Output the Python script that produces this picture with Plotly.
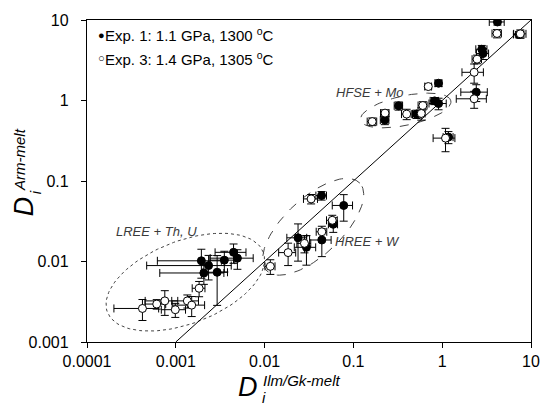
import numpy as np
import plotly.graph_objects as go

# ---------------- data ----------------
# Exp. 1 (filled circles)
exp1_x = [0.00194, 0.00234, 0.00207, 0.00292, 0.00352, 0.00447, 0.00494,
          0.0438, 0.0778, 0.0593, 0.0441, 0.0238, 0.0296,
          0.226, 0.323, 0.513, 0.822, 0.910, 0.910, 1.175, 2.42, 2.88, 2.79, 4.19, 7.33]
exp1_y = [0.0102, 0.0089, 0.0072, 0.00735, 0.0104, 0.0130, 0.0110,
          0.0659, 0.0497, 0.0290, 0.0185, 0.0197, 0.0150,
          0.571, 0.859, 0.678, 0.989, 0.917, 1.64, 0.351, 1.27, 3.83, 4.33, 9.45, 6.61]
exp1_ex = [0.00132, 0.00187, 0.00141, 0.0009, 0.0011, 0.0017, 0.0025,
           0.006, 0.02, 0.007, 0.012, 0.006, 0.008,
           0.025, 0.035, 0.05, 0.09, 0.2, 0.08, 0.15, 0.8, 0.45, 0.4, 0.8, 1.0]
exp1_ey = [0.0040, 0.0030, 0.0020, 0.0045, 0.0030, 0.0035, 0.0030,
           0.008, 0.018, 0.006, 0.007, 0.0096, 0.006,
           0.07, 0.10, 0.08, 0.10, 0.15, 0.15, 0.06, 0.3, 0.6, 0.5, 0.8, 0.6]

# Exp. 3 (open circles)
exp3_x = [0.000421, 0.000610, 0.000752, 0.000987, 0.00135, 0.00151, 0.00183,
          0.0334, 0.0578, 0.0441, 0.0281, 0.0184, 0.0116,
          0.163, 0.227, 0.398, 0.581, 0.605, 0.697, 1.09, 2.29, 2.29, 2.47, 4.14, 7.58]
exp3_y = [0.00261, 0.00296, 0.00324, 0.00252, 0.00324, 0.00287, 0.00465,
          0.0599, 0.0325, 0.0234, 0.0168, 0.0129, 0.00871,
          0.547, 0.697, 0.678, 0.690, 0.866, 1.49, 0.341, 1.05, 2.24, 3.26, 6.80, 6.73]
exp3_ex = [0.00022, 0.00016, 0.00030, 0.00030, 0.00045, 0.00060, 0.00030,
           0.006, 0.008, 0.006, 0.005, 0.004, 0.0015,
           0.02, 0.025, 0.05, 0.06, 0.07, 0.06, 0.3, 0.85, 0.62, 0.3, 0.5, 1.2]
exp3_ey = [0.00076, 0.00040, 0.00110, 0.00050, 0.00060, 0.0008, 0.0010,
           0.008, 0.005, 0.004, 0.004, 0.004, 0.0018,
           0.06, 0.07, 0.1, 0.12, 0.1, 0.1, 0.11, 0.25, 0.6, 0.4, 0.8, 0.8]

x_ticks = [0.0001, 0.001, 0.01, 0.1, 1, 10]
x_ticktext = ["0.0001", "0.001", "0.01", "0.1", "1", "10"]
y_ticks = [0.001, 0.01, 0.1, 1, 10]
y_ticktext = ["0.001", "0.01", "0.1", "1", "10"]

legend_labels = ["Exp. 1: 1.1 GPa, 1300 <sup>o</sup>C", "Exp. 3: 1.4 GPa, 1305 <sup>o</sup>C"]
legend_symbols = ["\u25CF", "\u25CB"]
group_labels = ["LREE + Th, U", "HREE + W", "HFSE + Mo"]

# ---------------- layout constants ----------------
W, H = 552, 405
ML, MR, MT, MB = 87, 13, 15, 63
PW, PH = W - ML - MR, H - MT - MB
XR, YR = [-4, 1], [-3, 1]
PX_DEC_X = PW / (XR[1] - XR[0])
PX_DEC_Y = PH / (YR[1] - YR[0])
FONT = "Arial, Liberation Sans, sans-serif"


def ellipse(cx, cy, a_px, b_px, ang_deg, n=120):
    t = np.linspace(0, 2 * np.pi, n)
    ang = np.deg2rad(ang_deg)
    dx = a_px * np.cos(t) * np.cos(ang) - b_px * np.sin(t) * np.sin(ang)
    dy = a_px * np.cos(t) * np.sin(ang) + b_px * np.sin(t) * np.cos(ang)
    lx = np.log10(cx) + dx / PX_DEC_X
    ly = np.log10(cy) + dy / PX_DEC_Y
    return 10 ** lx, 10 ** ly


fig = go.Figure()

# ellipses
for (cx, cy, a, b, ang, dash) in [
    (0.00128, 0.00554, 85, 42, 21, "dot"),
    (0.0352, 0.0270, 65, 29, 43, "dash"),
    (0.388, 0.752, 47, 15, 12, "dash"),
]:
    ex_, ey_ = ellipse(cx, cy, a, b, ang)
    fig.add_trace(go.Scatter(x=ex_, y=ey_, mode="lines",
                             line=dict(color="#444444", width=1, dash=dash),
                             hoverinfo="skip", showlegend=False))

# 1:1 line
fig.add_trace(go.Scatter(x=[0.001, 10], y=[0.001, 10], mode="lines",
                         line=dict(color="black", width=1), showlegend=False))

err_style = dict(type="data", symmetric=True, color="black", thickness=1, width=4)

fig.add_trace(go.Scatter(
    x=exp1_x, y=exp1_y, mode="markers",
    error_x=dict(array=exp1_ex, **err_style),
    error_y=dict(array=exp1_ey, **err_style),
    marker=dict(symbol="circle", size=8, color="black", line=dict(color="black", width=1)),
    showlegend=False))

fig.add_trace(go.Scatter(
    x=exp3_x, y=exp3_y, mode="markers",
    error_x=dict(array=exp3_ex, **err_style),
    error_y=dict(array=exp3_ey, **err_style),
    marker=dict(symbol="circle", size=8, color="white", line=dict(color="black", width=1)),
    showlegend=False))


def px2paper(px, py):
    return (px - ML) / PW, (H - MB - py) / PH


annotations = []
# legend (as text)
for i, (sym, lab) in enumerate(zip(legend_symbols, legend_labels)):
    x, y = px2paper(96, 30 + 24 * i)
    annotations.append(dict(x=x, y=y, xref="paper", yref="paper", xanchor="left", yanchor="middle",
                            text=sym, showarrow=False,
                            font=dict(family=FONT, size=11, color="black")))
    x, y = px2paper(103, 30 + 24 * i)
    annotations.append(dict(x=x, y=y, xref="paper", yref="paper", xanchor="left", yanchor="middle",
                            text=lab, showarrow=False,
                            font=dict(family=FONT, size=15, color="black")))

# group labels
for lab, (px, py) in zip(group_labels, [(158, 230), (373, 240), (375, 89)]):
    x, y = px2paper(px, py)
    annotations.append(dict(x=x, y=y, xref="paper", yref="paper", xanchor="center", yanchor="middle",
                            text="<i>" + lab + "</i>", showarrow=False,
                            font=dict(family=FONT, size=13, color="#3a3a3a")))

# x axis title: D_i^{Ilm/Gk-melt}
x, y = px2paper(251, 388)
annotations.append(dict(x=x, y=y, xref="paper", yref="paper", xanchor="center", yanchor="middle",
                        text="<i>D</i>", showarrow=False, font=dict(family=FONT, size=27, color="black")))
x, y = px2paper(264, 381)
annotations.append(dict(x=x, y=y, xref="paper", yref="paper", xanchor="left", yanchor="middle",
                        text="<i>Ilm/Gk-melt</i>", showarrow=False, font=dict(family=FONT, size=15, color="black")))
x, y = px2paper(263, 398)
annotations.append(dict(x=x, y=y, xref="paper", yref="paper", xanchor="left", yanchor="middle",
                        text="<i>i</i>", showarrow=False, font=dict(family=FONT, size=15, color="black")))

# y axis title: D_i^{Arm-melt}
x, y = px2paper(23, 204)
annotations.append(dict(x=x, y=y, xref="paper", yref="paper", xanchor="center", yanchor="middle",
                        text="<i>D</i>", textangle=-90, showarrow=False,
                        font=dict(family=FONT, size=27, color="black")))
x, y = px2paper(19, 191)
annotations.append(dict(x=x, y=y, xref="paper", yref="paper", xanchor="center", yanchor="bottom",
                        text="<i>Arm-melt</i>", textangle=-90, showarrow=False,
                        font=dict(family=FONT, size=15, color="black")))
x, y = px2paper(34, 190)
annotations.append(dict(x=x, y=y, xref="paper", yref="paper", xanchor="center", yanchor="middle",
                        text="<i>i</i>", textangle=-90, showarrow=False,
                        font=dict(family=FONT, size=15, color="black")))

axis_common = dict(type="log", showline=True, mirror=True, linecolor="black", linewidth=1.3,
                   ticks="outside", ticklen=5, tickwidth=1.3, tickcolor="black",
                   showgrid=False, zeroline=False,
                   tickfont=dict(family=FONT, size=16, color="black"))

fig.update_layout(
    width=W, height=H,
    margin=dict(l=ML, r=MR, t=MT, b=MB),
    paper_bgcolor="white", plot_bgcolor="white",
    xaxis=dict(range=XR, tickvals=x_ticks, ticktext=x_ticktext, **axis_common),
    yaxis=dict(range=YR, tickvals=y_ticks, ticktext=y_ticktext, ticklabelstandoff=9, **axis_common),
    annotations=annotations,
    showlegend=False,
)

fig.write_html("out.html", config={"displayModeBar": False},
               post_script="document.body.style.margin='0';")
